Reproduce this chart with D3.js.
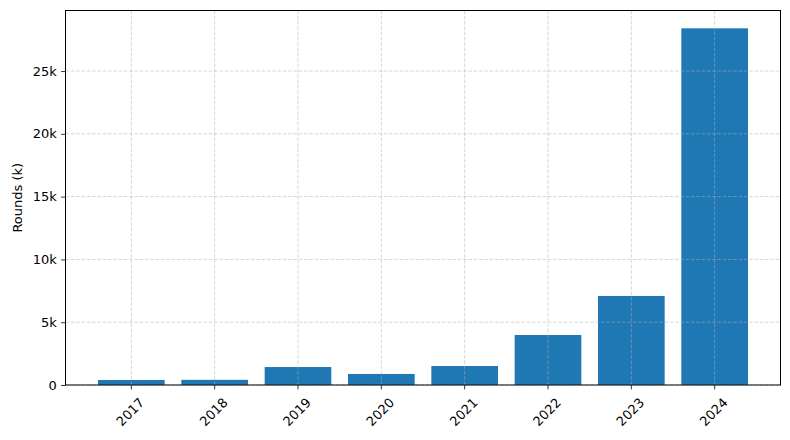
<!DOCTYPE html>
<html lang="en">
<head>
    <meta charset="UTF-8" />
    <title>Rounds per year</title>
    <script src="https://d3js.org/d3.v7.min.js"></script>
    <style>
        body {
            margin: 0;
            background: #fff;
            font-family: "DejaVu Sans", sans-serif;
        }

        .grid line {
            stroke: #b0b0b0;
            stroke-opacity: 0.5;
            stroke-width: 1;
            stroke-dasharray: 3.7 1.6;
        }
    </style>
</head>
<body>
    <svg id="chart" width="790" height="440"></svg>

    <script>
        // data
        const years = ["2017", "2018", "2019", "2020", "2021", "2022", "2023", "2024"];
        const rounds = [400, 410, 1430, 880, 1510, 3980, 7090, 28400];
        const yTicks = [0, 5000, 10000, 15000, 20000, 25000];

        const margin = { top: 10.5, right: 9.5, bottom: 55, left: 65.5 };
        const width = 790, height = 440;
        const innerW = width - margin.left - margin.right;
        const innerH = 385 - margin.top;
        const fontSize = 13;

        const svg = d3.select("#chart");
        const g = svg.append("g")
            .attr("transform", `translate(${margin.left},${margin.top})`);

        const x = d3.scaleBand()
            .domain(years)
            .range([0, innerW])
            .paddingInner(0.2)
            .paddingOuter(0.39);

        const yMax = d3.max(rounds) * 1.05;
        const y = d3.scaleLinear()
            .domain([0, yMax])
            .range([innerH, 0]);

        // bars
        g.selectAll(".bar")
            .data(rounds)
            .enter().append("rect")
            .attr("class", "bar")
            .attr("x", (d, i) => x(years[i]))
            .attr("y", d => y(d))
            .attr("width", x.bandwidth())
            .attr("height", d => innerH - y(d))
            .attr("fill", "#1f77b4");

        // grid on top of bars (matplotlib default zorder)
        const grid = g.append("g").attr("class", "grid");
        grid.selectAll(".hgrid")
            .data(yTicks)
            .enter().append("line")
            .attr("x1", 0).attr("x2", innerW)
            .attr("y1", d => y(d)).attr("y2", d => y(d));
        grid.selectAll(".vgrid")
            .data(years)
            .enter().append("line")
            .attr("x1", d => x(d) + x.bandwidth() / 2)
            .attr("x2", d => x(d) + x.bandwidth() / 2)
            .attr("y1", 0).attr("y2", innerH);

        // axes
        const fmt = d => d === 0 ? "0" : (d / 1000) + "k";

        const yAxis = g.append("g")
            .call(d3.axisLeft(y).tickValues(yTicks).tickFormat(fmt)
                .tickSize(4.4).tickPadding(4.4));
        yAxis.attr("font-size", fontSize).attr("font-family", "DejaVu Sans");
        yAxis.select(".domain").remove();
        yAxis.selectAll(".tick line").attr("stroke", "#000").attr("stroke-width", 0.8);

        const xAxis = g.append("g")
            .attr("transform", `translate(0,${innerH})`)
            .call(d3.axisBottom(x).tickSize(4.4).tickPadding(4.4));
        xAxis.attr("font-size", fontSize).attr("font-family", "DejaVu Sans");
        xAxis.select(".domain").remove();
        xAxis.selectAll(".tick line").attr("stroke", "#000").attr("stroke-width", 0.8);
        xAxis.selectAll("text")
            .attr("y", 0)
            .attr("dy", null)
            .attr("text-anchor", "middle")
            .attr("dominant-baseline", "central")
            .attr("transform", "translate(-1,27) rotate(-45)");

        // frame
        g.append("rect")
            .attr("width", innerW)
            .attr("height", innerH)
            .attr("fill", "none")
            .attr("stroke", "#000")
            .attr("stroke-width", 1);

        // y label
        svg.append("text")
            .attr("transform", `translate(17,${margin.top + innerH / 2}) rotate(-90)`)
            .attr("text-anchor", "middle")
            .attr("dominant-baseline", "central")
            .attr("font-family", "DejaVu Sans")
            .attr("font-size", fontSize)
            .text("Rounds (k)");
    </script>
</body>
</html>
